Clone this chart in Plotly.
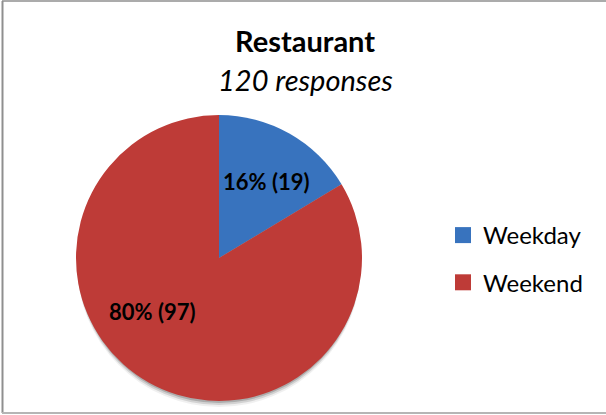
import plotly.graph_objects as go

# ---- data ----
categories = ["Weekday", "Weekend"]
counts = [19, 97]
percent_labels = ["16%", "80%"]
total_responses = 120
chart_title = "Restaurant"

# ---- style ----
colors = ["#3873BE", "#BE3B37"]
W, H = 606, 415
FONT = "Lato, 'Open Sans', sans-serif"


def px(x):
    return x / W


def py(y):
    return 1 - y / H


cx, cy, r = 219, 258, 143

fig = go.Figure()

fig.add_trace(go.Pie(
    labels=categories,
    values=counts,
    sort=False,
    direction="clockwise",
    rotation=0,
    marker=dict(colors=colors, line=dict(width=0)),
    textinfo="none",
    showlegend=False,
    hoverinfo="label+value+percent",
    domain=dict(x=[px(cx - r), px(cx + r)], y=[py(cy + r), py(cy - r)]),
))

# legend entries (squares)
for cat, col in zip(categories, colors):
    fig.add_trace(go.Scatter(
        x=[None], y=[None], mode="markers", name=cat,
        marker=dict(symbol="square", size=16, color=col),
        legendgroup=cat, showlegend=True,
    ))

# shadow under pie
shapes = []
for off, op in [(2, 0.18), (4, 0.12), (6, 0.06)]:
    shapes.append(dict(
        type="circle", xref="paper", yref="paper", layer="below",
        x0=px(cx - r + 1), x1=px(cx + r - 1),
        y0=py(cy + r + off), y1=py(cy - r + off),
        fillcolor=f"rgba(0,0,0,{op})", line=dict(width=0),
    ))

# outer border
border = "#8f8f8f"
shapes += [
    dict(type="line", xref="paper", yref="paper", x0=px(2.5), x1=px(2.5), y0=py(1), y1=py(413), line=dict(color=border, width=2)),
    dict(type="line", xref="paper", yref="paper", x0=px(2), x1=px(606), y0=py(1), y1=py(1), line=dict(color=border, width=1.5)),
    dict(type="line", xref="paper", yref="paper", x0=px(2), x1=px(606), y0=py(413), y1=py(413), line=dict(color="#b5b5b5", width=2)),
]

label_pos = [(266, 181), (152, 311)]
annotations = []
for (lx, ly), p, c in zip(label_pos, percent_labels, counts):
    annotations.append(dict(
        x=px(lx), y=py(ly), xref="paper", yref="paper", showarrow=False,
        text=f"<b>{p} ({c})</b>", font=dict(family=FONT, size=22, color="#000000"),
        xanchor="center", yanchor="middle",
    ))

annotations.append(dict(
    x=px(305), y=py(41), xref="paper", yref="paper", showarrow=False,
    text=f"<b>{chart_title}</b>", font=dict(family=FONT, size=29, color="#000000"),
    xanchor="center", yanchor="middle",
))
annotations.append(dict(
    x=px(305), y=py(79), xref="paper", yref="paper", showarrow=False,
    text=f"<i>{total_responses} responses</i>", font=dict(family=FONT, size=29, color="#000000"),
    xanchor="center", yanchor="middle",
))

fig.update_layout(
    width=W, height=H, autosize=False,
    margin=dict(l=0, r=0, t=0, b=0),
    paper_bgcolor="white", plot_bgcolor="white",
    xaxis=dict(visible=False, domain=[0.9, 1.0]),
    yaxis=dict(visible=False, domain=[0.9, 1.0]),
    shapes=shapes,
    annotations=annotations,
    legend=dict(
        x=px(443), y=py(213), xanchor="left", yanchor="top",
        font=dict(family=FONT, size=24, color="#000000"),
        tracegroupgap=13, bgcolor="rgba(0,0,0,0)", itemwidth=30,
    ),
    showlegend=True,
)

fig.write_html("out.html", config={"displayModeBar": False},
               post_script="document.body.style.margin='0';")
